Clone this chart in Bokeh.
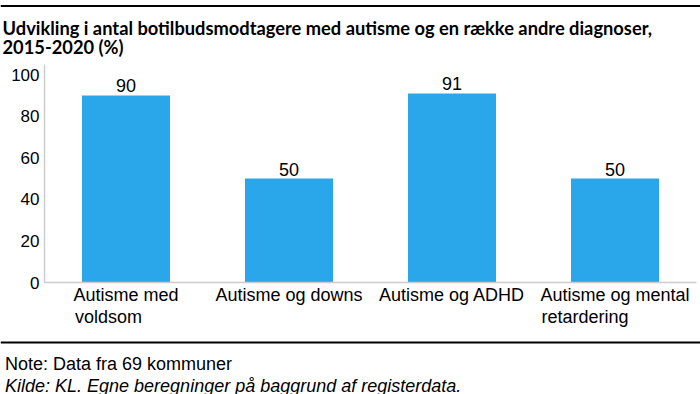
from bokeh.plotting import figure
from bokeh.models import (ColumnDataSource, Range1d, FixedTicker, LabelSet, Label, Span)
from bokeh.core.properties import value
from bokeh.embed import file_html
from bokeh.resources import INLINE

# ---- data ----
categories = ["Autisme med voldsom", "Autisme og downs", "Autisme og ADHD",
              "Autisme og mental retardering"]
tick_labels = ["Autisme med\nvoldsom", "Autisme og downs", "Autisme og ADHD",
               "Autisme og mental\nretardering"]
values = [90, 50, 91, 50]
y_ticks = [0, 20, 40, 60, 80, 100]
y_axis_max = 105

title_lines = ["Udvikling i antal botilbudsmodtagere med autisme og en række andre diagnoser,",
               "2015-2020 (%)"]
note_text = "Note: Data fra 69 kommuner"
source_text = "Kilde: KL. Egne beregninger på baggrund af registerdata."

# ---- style / layout ----
BAR_COLOR = "#29a7ea"
AXIS_COLOR = "#cccccc"
TEXT_FONT = "Liberation Sans"
W, H = 700, 394
AXIS_X_PX = 44          # pixel column of the value axis
CAT_PX = 163            # pixel width of one category slot
ZERO_Y_PX = 282         # pixel row of value 0
UNIT_PX = 2.078         # pixels per value unit
# trailing spaces so that the second line of a wrapped label starts under the first
line_pad = [7, 0, 0, 12]

positions = [i + 0.5 for i in range(len(categories))]
shown_labels = []
for lab, pad in zip(tick_labels, line_pad):
    parts = lab.split("\n")
    if len(parts) > 1:
        parts[-1] = parts[-1] + " " * pad
    shown_labels.append("\n".join(parts))

src = ColumnDataSource(dict(x=positions, val=values, txt=[str(v) for v in values]))

p = figure(width=W, height=H,
           x_range=Range1d(-AXIS_X_PX / CAT_PX, (W - AXIS_X_PX) / CAT_PX),
           y_range=Range1d(-(H - ZERO_Y_PX) / UNIT_PX, ZERO_Y_PX / UNIT_PX),
           toolbar_location=None, output_backend="svg", min_border=0,
           outline_line_color=None)
p.title.visible = False
p.vbar(x="x", top="val", width=0.54, source=src, color=BAR_COLOR, line_color=None)
p.add_layout(LabelSet(x="x", y="val", text="txt", source=src, text_align="center",
                      text_baseline="alphabetic", y_offset=3, text_font=value(TEXT_FONT),
                      text_font_size=value("18px"), text_color="black"))
p.grid.visible = False

p.yaxis.fixed_location = 0
p.yaxis.bounds = (0, y_axis_max)
p.yaxis.ticker = FixedTicker(ticks=y_ticks)
p.yaxis.major_label_text_font_size = "17px"
p.yaxis.major_tick_out = 0
p.yaxis.major_label_standoff = 5

p.xaxis.fixed_location = 0
p.xaxis.bounds = (0, len(categories))
p.xaxis.ticker = FixedTicker(ticks=positions)
p.xaxis.major_label_overrides = {pos: lab for pos, lab in zip(positions, shown_labels)}
p.xaxis.major_label_text_font_size = "18px"
p.xaxis.major_label_text_line_height = 1.1
p.xaxis.major_label_standoff = -4

p.axis.axis_line_color = AXIS_COLOR
p.axis.axis_line_width = 1.5
p.axis.major_tick_line_color = None
p.axis.minor_tick_line_color = None
p.axis.major_label_text_font = TEXT_FONT
p.axis.major_label_text_color = "black"

# decorations in screen units (frame == canvas, y measured up from the bottom)
def rule(y_from_top):
    return Span(location=H - y_from_top, location_units="screen", dimension="width",
                line_color="black", line_width=2)

def text_label(txt, x, baseline_from_top, font, size, style="normal"):
    return Label(x=x, y=H - baseline_from_top, x_units="screen", y_units="screen",
                 text=txt, text_font=font, text_font_size=size, text_font_style=style,
                 text_color="black", text_baseline="alphabetic")

p.add_layout(rule(5.5))
p.add_layout(text_label(title_lines[0], 2, 27, "Lato", "18.3px", "bold"))
p.add_layout(text_label(title_lines[1], 2, 46.5, "Lato", "18.3px", "bold"))
p.add_layout(rule(342))
p.add_layout(text_label(note_text, 4.5, 363, TEXT_FONT, "18px"))
p.add_layout(text_label(source_text, 4.5, 385, TEXT_FONT, "18px", "italic"))

open("out.html", "w").write(file_html(p, INLINE))
